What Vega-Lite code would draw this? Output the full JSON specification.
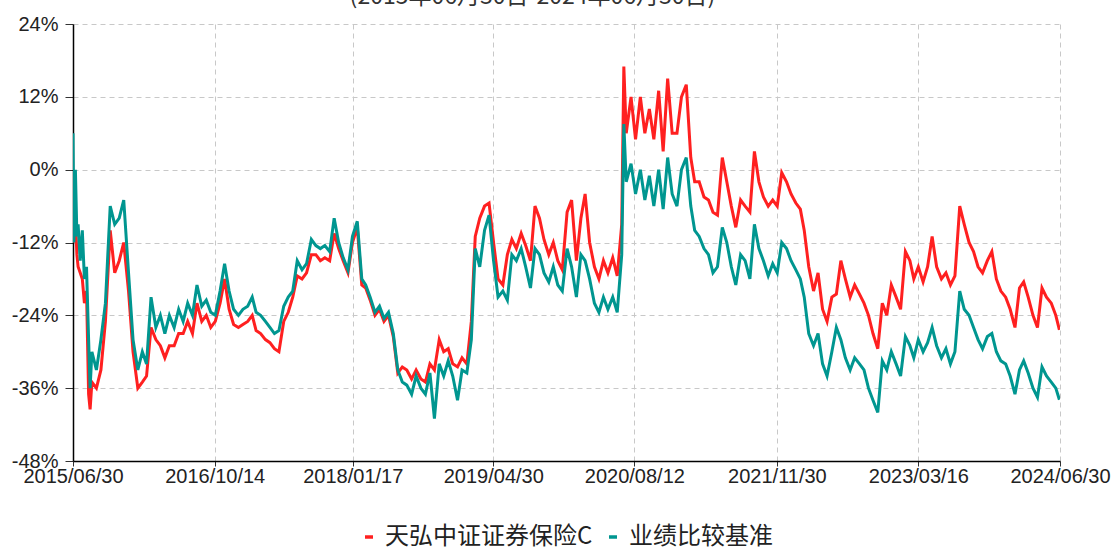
{
  "$schema": "https://vega.github.io/schema/vega-lite/v6.json",
  "width": 987,
  "height": 437,
  "autosize": "none",
  "padding": {"left": 73, "top": 24, "right": 57, "bottom": 89},
  "background": "white",
  "title": {"text": "(2015年06月30日-2024年06月30日)", "anchor": "middle", "frame": "group", "offset": -13, "baseline": "alphabetic", "fontSize": 23, "fontWeight": "normal", "font": "Noto Sans CJK SC", "color": "#333333", "dx": -34},
  "config": {
    "view": {"stroke": null},
    "axis": {"labelFont": "Liberation Sans", "labelFontSize": 20, "labelColor": "#222222", "gridColor": "#c8c8c8", "gridDash": [5, 4], "gridWidth": 1, "domainColor": "#000000", "domainWidth": 1.5, "tickColor": "#333333", "title": null}
  },
  "data": {"values": [
    {"d":"2015-06-30","r":-7,"t":6},
    {"d":"2015-07-03","r":-12,"t":-12},
    {"d":"2015-07-08","r":-8,"t":0},
    {"d":"2015-07-13","r":-14,"t":-11},
    {"d":"2015-07-17","r":-16,"t":-9},
    {"d":"2015-07-24","r":-17,"t":-15},
    {"d":"2015-07-31","r":-18,"t":-10},
    {"d":"2015-08-07","r":-22,"t":-18},
    {"d":"2015-08-14","r":-20,"t":-16},
    {"d":"2015-08-21","r":-37,"t":-28},
    {"d":"2015-08-26","r":-39.5,"t":-36},
    {"d":"2015-09-01","r":-35,"t":-30},
    {"d":"2015-09-16","r":-36,"t":-33},
    {"d":"2015-10-01","r":-33,"t":-28},
    {"d":"2015-10-16","r":-25,"t":-22},
    {"d":"2015-11-01","r":-10,"t":-6},
    {"d":"2015-11-16","r":-17,"t":-9},
    {"d":"2015-12-01","r":-15,"t":-8},
    {"d":"2015-12-16","r":-12,"t":-5},
    {"d":"2016-01-01","r":-20,"t":-17},
    {"d":"2016-01-16","r":-30,"t":-28},
    {"d":"2016-02-01","r":-36,"t":-33},
    {"d":"2016-02-16","r":-35,"t":-30},
    {"d":"2016-03-01","r":-34,"t":-32},
    {"d":"2016-03-16","r":-26,"t":-21},
    {"d":"2016-04-01","r":-28,"t":-26},
    {"d":"2016-04-16","r":-29,"t":-24},
    {"d":"2016-05-01","r":-31,"t":-27},
    {"d":"2016-05-16","r":-29,"t":-24},
    {"d":"2016-06-01","r":-29,"t":-26},
    {"d":"2016-06-16","r":-27,"t":-23},
    {"d":"2016-07-01","r":-27,"t":-25},
    {"d":"2016-07-16","r":-25,"t":-22},
    {"d":"2016-08-01","r":-27,"t":-24},
    {"d":"2016-08-16","r":-22,"t":-19},
    {"d":"2016-09-01","r":-25,"t":-22.5},
    {"d":"2016-09-16","r":-24,"t":-21.5},
    {"d":"2016-10-01","r":-26,"t":-23.5},
    {"d":"2016-10-16","r":-25,"t":-24},
    {"d":"2016-11-01","r":-22,"t":-20},
    {"d":"2016-11-16","r":-18,"t":-15.5},
    {"d":"2016-12-01","r":-23,"t":-20},
    {"d":"2016-12-16","r":-25.5,"t":-23},
    {"d":"2017-01-01","r":-26,"t":-24},
    {"d":"2017-01-16","r":-25.5,"t":-23},
    {"d":"2017-02-01","r":-25,"t":-22.5},
    {"d":"2017-02-16","r":-24,"t":-21},
    {"d":"2017-03-01","r":-26.5,"t":-23.5},
    {"d":"2017-03-16","r":-27,"t":-24},
    {"d":"2017-04-01","r":-28,"t":-25},
    {"d":"2017-04-16","r":-28.5,"t":-26},
    {"d":"2017-05-01","r":-29.5,"t":-27},
    {"d":"2017-05-16","r":-30,"t":-26.5},
    {"d":"2017-06-01","r":-25,"t":-22.5},
    {"d":"2017-06-16","r":-23.5,"t":-21},
    {"d":"2017-07-01","r":-21,"t":-20},
    {"d":"2017-07-16","r":-17.5,"t":-15},
    {"d":"2017-08-01","r":-18,"t":-16.5},
    {"d":"2017-08-16","r":-17,"t":-15.5},
    {"d":"2017-09-01","r":-14,"t":-11.5},
    {"d":"2017-09-16","r":-14,"t":-12.5},
    {"d":"2017-10-01","r":-15,"t":-13},
    {"d":"2017-10-16","r":-14.5,"t":-12.5},
    {"d":"2017-11-01","r":-15,"t":-13.5},
    {"d":"2017-11-16","r":-10.5,"t":-8},
    {"d":"2017-12-01","r":-13,"t":-12},
    {"d":"2017-12-16","r":-15,"t":-14.5},
    {"d":"2018-01-01","r":-17,"t":-16.5},
    {"d":"2018-01-16","r":-12,"t":-11},
    {"d":"2018-02-01","r":-9.5,"t":-8.5},
    {"d":"2018-02-16","r":-19,"t":-18},
    {"d":"2018-03-01","r":-19.5,"t":-19},
    {"d":"2018-03-16","r":-21.5,"t":-21},
    {"d":"2018-04-01","r":-24,"t":-23.5},
    {"d":"2018-04-16","r":-23,"t":-22.5},
    {"d":"2018-05-01","r":-25,"t":-24.5},
    {"d":"2018-05-16","r":-24,"t":-23.5},
    {"d":"2018-06-01","r":-27.5,"t":-27},
    {"d":"2018-06-16","r":-33.5,"t":-33},
    {"d":"2018-07-01","r":-32.5,"t":-35},
    {"d":"2018-07-16","r":-33,"t":-35.5},
    {"d":"2018-08-01","r":-34.5,"t":-37},
    {"d":"2018-08-16","r":-33,"t":-34},
    {"d":"2018-09-01","r":-34.5,"t":-36},
    {"d":"2018-09-16","r":-35,"t":-37},
    {"d":"2018-10-01","r":-32,"t":-33.5},
    {"d":"2018-10-16","r":-33,"t":-41},
    {"d":"2018-11-01","r":-28,"t":-32},
    {"d":"2018-11-16","r":-30,"t":-34},
    {"d":"2018-12-01","r":-29.5,"t":-31.5},
    {"d":"2018-12-16","r":-32,"t":-34},
    {"d":"2019-01-01","r":-32.5,"t":-38},
    {"d":"2019-01-16","r":-31,"t":-33},
    {"d":"2019-02-01","r":-32,"t":-33.5},
    {"d":"2019-02-16","r":-25,"t":-28},
    {"d":"2019-03-01","r":-11,"t":-13},
    {"d":"2019-03-16","r":-8,"t":-16},
    {"d":"2019-04-01","r":-6,"t":-10},
    {"d":"2019-04-16","r":-5.5,"t":-7.5},
    {"d":"2019-05-01","r":-12,"t":-15},
    {"d":"2019-05-16","r":-18,"t":-21},
    {"d":"2019-06-01","r":-19,"t":-20},
    {"d":"2019-06-16","r":-14,"t":-21.5},
    {"d":"2019-07-01","r":-11.5,"t":-14},
    {"d":"2019-07-16","r":-13,"t":-15},
    {"d":"2019-08-01","r":-10.5,"t":-13},
    {"d":"2019-08-16","r":-12.5,"t":-16},
    {"d":"2019-09-01","r":-15,"t":-19.5},
    {"d":"2019-09-16","r":-6,"t":-13},
    {"d":"2019-10-01","r":-8,"t":-14},
    {"d":"2019-10-16","r":-11.5,"t":-17},
    {"d":"2019-11-01","r":-14,"t":-18.5},
    {"d":"2019-11-16","r":-12,"t":-16},
    {"d":"2019-12-01","r":-15,"t":-19},
    {"d":"2019-12-16","r":-16.5,"t":-20},
    {"d":"2020-01-01","r":-7,"t":-13},
    {"d":"2020-01-16","r":-5,"t":-16},
    {"d":"2020-02-01","r":-15,"t":-21},
    {"d":"2020-02-16","r":-8,"t":-14},
    {"d":"2020-03-01","r":-4,"t":-15},
    {"d":"2020-03-16","r":-12,"t":-18},
    {"d":"2020-04-01","r":-16,"t":-22},
    {"d":"2020-04-16","r":-18,"t":-23.5},
    {"d":"2020-05-01","r":-15,"t":-21},
    {"d":"2020-05-16","r":-17,"t":-23},
    {"d":"2020-06-01","r":-14.5,"t":-21},
    {"d":"2020-06-16","r":-17.5,"t":-23.5},
    {"d":"2020-07-01","r":-9,"t":-14},
    {"d":"2020-07-08","r":17,"t":7.5},
    {"d":"2020-07-16","r":6,"t":-2},
    {"d":"2020-08-01","r":12,"t":1},
    {"d":"2020-08-16","r":5,"t":-4},
    {"d":"2020-09-01","r":12,"t":0},
    {"d":"2020-09-16","r":6,"t":-5},
    {"d":"2020-10-01","r":10,"t":-1},
    {"d":"2020-10-16","r":5,"t":-6},
    {"d":"2020-11-01","r":13,"t":0},
    {"d":"2020-11-16","r":3,"t":-6.5},
    {"d":"2020-12-01","r":15,"t":2},
    {"d":"2020-12-16","r":6,"t":-4},
    {"d":"2021-01-01","r":6,"t":-6},
    {"d":"2021-01-16","r":12,"t":0},
    {"d":"2021-02-01","r":14,"t":2},
    {"d":"2021-02-16","r":2,"t":-6},
    {"d":"2021-03-01","r":-2,"t":-10},
    {"d":"2021-03-16","r":-2,"t":-11},
    {"d":"2021-04-01","r":-4.5,"t":-13},
    {"d":"2021-04-16","r":-5,"t":-14},
    {"d":"2021-05-01","r":-7,"t":-17},
    {"d":"2021-05-16","r":-7.5,"t":-16},
    {"d":"2021-06-01","r":2,"t":-9.5},
    {"d":"2021-06-16","r":-2,"t":-12},
    {"d":"2021-07-01","r":-6,"t":-16},
    {"d":"2021-07-16","r":-9.5,"t":-19},
    {"d":"2021-08-01","r":-5,"t":-14},
    {"d":"2021-08-16","r":-6,"t":-15},
    {"d":"2021-09-01","r":-7,"t":-18},
    {"d":"2021-09-16","r":3,"t":-9},
    {"d":"2021-10-01","r":-2,"t":-13},
    {"d":"2021-10-16","r":-4.5,"t":-15},
    {"d":"2021-11-01","r":-6,"t":-17.5},
    {"d":"2021-11-16","r":-5,"t":-15.5},
    {"d":"2021-12-01","r":-6,"t":-17},
    {"d":"2021-12-16","r":-0.5,"t":-12},
    {"d":"2022-01-01","r":-2,"t":-13},
    {"d":"2022-01-16","r":-4,"t":-15},
    {"d":"2022-02-01","r":-5.5,"t":-16.5},
    {"d":"2022-02-16","r":-6.5,"t":-18},
    {"d":"2022-03-01","r":-10,"t":-21},
    {"d":"2022-03-16","r":-16,"t":-27},
    {"d":"2022-04-01","r":-20,"t":-29},
    {"d":"2022-04-16","r":-17,"t":-27},
    {"d":"2022-05-01","r":-23,"t":-32},
    {"d":"2022-05-16","r":-25,"t":-34},
    {"d":"2022-06-01","r":-21,"t":-30},
    {"d":"2022-06-16","r":-20.5,"t":-26},
    {"d":"2022-07-01","r":-15,"t":-28},
    {"d":"2022-07-16","r":-18,"t":-31},
    {"d":"2022-08-01","r":-21,"t":-33},
    {"d":"2022-08-16","r":-19,"t":-31},
    {"d":"2022-09-01","r":-20.5,"t":-32},
    {"d":"2022-09-16","r":-22,"t":-33},
    {"d":"2022-10-01","r":-24,"t":-36},
    {"d":"2022-10-16","r":-27,"t":-38},
    {"d":"2022-11-01","r":-29.5,"t":-40},
    {"d":"2022-11-16","r":-22,"t":-31.5},
    {"d":"2022-12-01","r":-24,"t":-33},
    {"d":"2022-12-16","r":-19,"t":-30},
    {"d":"2023-01-01","r":-21,"t":-32},
    {"d":"2023-01-16","r":-23,"t":-34},
    {"d":"2023-02-01","r":-13.5,"t":-27.5},
    {"d":"2023-02-16","r":-15,"t":-29},
    {"d":"2023-03-01","r":-18,"t":-31},
    {"d":"2023-03-16","r":-16,"t":-28},
    {"d":"2023-04-01","r":-18.5,"t":-30},
    {"d":"2023-04-16","r":-16,"t":-28.5},
    {"d":"2023-05-01","r":-11,"t":-26},
    {"d":"2023-05-16","r":-16,"t":-29},
    {"d":"2023-06-01","r":-18,"t":-31},
    {"d":"2023-06-16","r":-17,"t":-29.5},
    {"d":"2023-07-01","r":-19,"t":-32},
    {"d":"2023-07-16","r":-17.5,"t":-30},
    {"d":"2023-08-01","r":-6,"t":-20},
    {"d":"2023-08-16","r":-9,"t":-23},
    {"d":"2023-09-01","r":-12,"t":-24},
    {"d":"2023-09-16","r":-13.5,"t":-26},
    {"d":"2023-10-01","r":-16,"t":-28},
    {"d":"2023-10-16","r":-17,"t":-29.5},
    {"d":"2023-11-01","r":-15,"t":-27.5},
    {"d":"2023-11-16","r":-13.5,"t":-27},
    {"d":"2023-12-01","r":-18,"t":-30},
    {"d":"2023-12-16","r":-20,"t":-31.5},
    {"d":"2024-01-01","r":-21,"t":-32},
    {"d":"2024-01-16","r":-23,"t":-34},
    {"d":"2024-02-01","r":-26,"t":-37},
    {"d":"2024-02-16","r":-19.5,"t":-33},
    {"d":"2024-03-01","r":-18.5,"t":-31.5},
    {"d":"2024-03-16","r":-21,"t":-33.5},
    {"d":"2024-04-01","r":-24,"t":-36},
    {"d":"2024-04-16","r":-26,"t":-37.5},
    {"d":"2024-05-01","r":-19.5,"t":-32.5},
    {"d":"2024-05-16","r":-21,"t":-34},
    {"d":"2024-06-01","r":-22,"t":-35},
    {"d":"2024-06-16","r":-24,"t":-36},
    {"d":"2024-06-28","r":-26.4,"t":-37.9}
  ]},
  "transform": [{"fold": ["r", "t"], "as": ["s", "v"]}],
  "mark": {"type": "line", "strokeWidth": 3, "clip": true},
  "encoding": {
    "x": {
      "field": "d", "type": "temporal",
      "scale": {"type": "utc", "domain": [{"year": 2015, "month": 6, "date": 30, "utc": true}, {"year": 2024, "month": 6, "date": 30, "utc": true}]},
      "axis": {
        "values": [
          {"year": 2015, "month": 6, "date": 30, "utc": true},
          {"year": 2016, "month": 10, "date": 14, "utc": true},
          {"year": 2018, "month": 1, "date": 17, "utc": true},
          {"year": 2019, "month": 4, "date": 30, "utc": true},
          {"year": 2020, "month": 8, "date": 12, "utc": true},
          {"year": 2021, "month": 11, "date": 30, "utc": true},
          {"year": 2023, "month": 3, "date": 16, "utc": true},
          {"year": 2024, "month": 6, "date": 30, "utc": true}
        ],
        "labelExpr": "utcFormat(datum.value, '%Y/%m/%d')", "tickSize": 5, "labelPadding": 0, "labelFlush": false, "labelOverlap": false
      }
    },
    "y": {
      "field": "v", "type": "quantitative",
      "scale": {"domain": [-48, 24], "nice": false, "zero": false},
      "axis": {"values": [-48, -36, -24, -12, 0, 12, 24], "labelExpr": "datum.value + '%'", "tickSize": 8, "labelPadding": 7}
    },
    "color": {
      "field": "s", "type": "nominal",
      "scale": {"domain": ["r", "t"], "range": ["#ff2020", "#009690"]},
      "legend": {
        "orient": "none", "legendX": 284, "legendY": 501, "direction": "horizontal", "title": null,
        "labelExpr": "datum.value == 'r' ? '天弘中证证券保险C' : '业绩比较基准'",
        "labelFont": "Noto Sans CJK SC", "labelFontSize": 24, "labelColor": "#222222",
        "symbolType": "stroke", "symbolSize": 64, "symbolStrokeWidth": 3.5, "labelOffset": 4, "columnPadding": 8, "labelLimit": 400
      }
    }
  }
}
